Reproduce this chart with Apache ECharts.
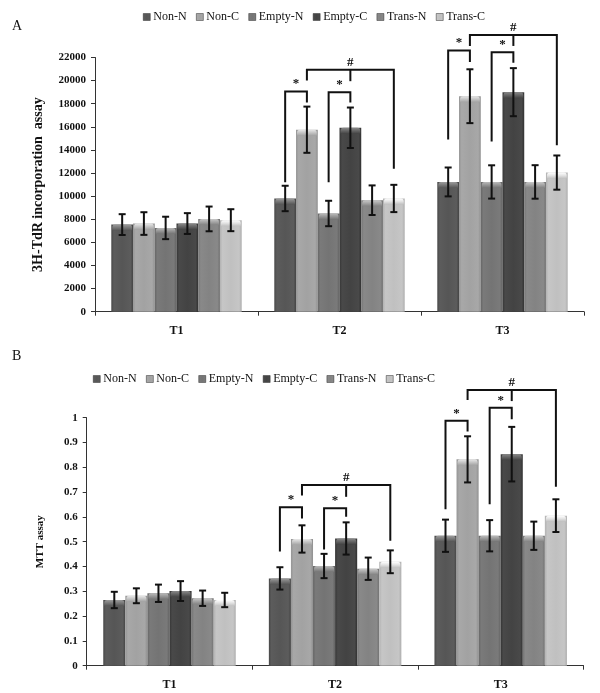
<!DOCTYPE html>
<html><head><meta charset="utf-8">
<script src="https://cdn.jsdelivr.net/npm/echarts/dist/echarts.min.js"></script>
<style>html,body{margin:0;padding:0;background:#fff}#c{width:600px;height:693px}</style>
</head><body><div id="c"></div><script>
// ---------- data ----------
const categories = ['T1', 'T2', 'T3'];
const seriesNames = ['Non-N', 'Non-C', 'Empty-N', 'Empty-C', 'Trans-N', 'Trans-C'];
const yTicksA = [0, 22000, 2000];   // min, max, interval
const yTicksB = [0, 1, 0.1];

// Panel A: 3H-TdR incorporation assay (means and error)
const tdrNonN   = [7540, 9800, 11230];
const tdrNonC   = [7630, 15750, 18650];
const tdrEmptyN = [7250, 8500, 11230];
const tdrEmptyC = [7630, 15920, 19000];
const tdrTransN = [8030, 9650, 11230];
const tdrTransC = [7920, 9800, 12040];
const tdrErrNonN   = [900, 1100, 1250];
const tdrErrNonC   = [980, 2000, 2330];
const tdrErrEmptyN = [970, 1100, 1440];
const tdrErrEmptyC = [900, 1750, 2080];
const tdrErrTransN = [1070, 1280, 1450];
const tdrErrTransC = [950, 1180, 1480];

// Panel B: MTT assay
const mttNonN   = [0.265, 0.352, 0.524];
const mttNonC   = [0.282, 0.511, 0.832];
const mttEmptyN = [0.292, 0.402, 0.524];
const mttEmptyC = [0.301, 0.513, 0.853];
const mttTransN = [0.272, 0.391, 0.524];
const mttTransC = [0.265, 0.419, 0.605];
const mttErrNonN   = [0.033, 0.045, 0.065];
const mttErrNonC   = [0.030, 0.055, 0.093];
const mttErrEmptyN = [0.035, 0.049, 0.063];
const mttErrEmptyC = [0.040, 0.065, 0.110];
const mttErrTransN = [0.031, 0.045, 0.057];
const mttErrTransC = [0.029, 0.046, 0.066];

// significance brackets: [category, leftBar, rightBar, topValue, leftEnd, rightEnd, midBar, midEnd, mark]
const tdrBrackets = [
  [1, 0, 1, 19050, 11200, 18100, -1, 0, '*'],
  [1, 2, 3, 19000, 11200, 18100, -1, 0, '*'],
  [1, 1, 5, 20930, 20000, 12380, 3, 19950, '#'],
  [2, 0, 1, 22600, 14900, 21600, -1, 0, '*'],
  [2, 2, 3, 22450, 14740, 21540, -1, 0, '*'],
  [2, 1, 5, 23950, 23000, 14400, 3, 23000, '#']
];
const mttBrackets = [
  [1, 0, 1, 0.639, 0.460, 0.594, -1, 0, '*'],
  [1, 2, 3, 0.635, 0.469, 0.601, -1, 0, '*'],
  [1, 1, 5, 0.729, 0.686, 0.504, 3, 0.681, '#'],
  [2, 0, 1, 0.988, 0.631, 0.944, -1, 0, '*'],
  [2, 2, 3, 1.040, 0.651, 0.994, -1, 0, '*'],
  [2, 1, 5, 1.112, 1.071, 0.722, 3, 1.067, '#']
];

// ---------- styling ----------
const SERIF = '"Liberation Serif", "DejaVu Serif", serif';
const baseColors = ['#565656', '#a2a2a2', '#747474', '#434343', '#838383', '#c0c0c0'];
function shade(hex, amt) {
  const n = parseInt(hex.slice(1), 16);
  let r = (n >> 16) & 255, g = (n >> 8) & 255, b = n & 255;
  const f = v => Math.max(0, Math.min(255, Math.round(v + amt)));
  return 'rgb(' + f(r) + ',' + f(g) + ',' + f(b) + ')';
}
function barGrad(c) {
  return new echarts.graphic.LinearGradient(0, 0, 1, 0, [
    {offset: 0, color: shade(c, -14)},
    {offset: 0.12, color: shade(c, 6)},
    {offset: 0.5, color: shade(c, 0)},
    {offset: 0.88, color: shade(c, 6)},
    {offset: 1, color: shade(c, -18)}
  ]);
}
const N = seriesNames.length;
const CAT_GAP = 0.2;

function barX(api, cat, idx) {
  const c = api.coord([cat, 0]);
  const bw = api.size([1, 0])[0];
  const w = bw * (1 - CAT_GAP) / N;
  return {x: c[0] - bw * (1 - CAT_GAP) / 2 + (idx + 0.5) * w, w: w};
}

function errRender(sIdx) {
  return function (params, api) {
    const cat = api.value(0), mean = api.value(1), err = api.value(2);
    const bx = barX(api, cat, sIdx);
    const yTop = api.coord([cat, mean])[1];
    const y1 = api.coord([cat, mean + err])[1];
    const y2 = api.coord([cat, mean - err])[1];
    const cap = 3.5;
    const st = {stroke: '#111', lineWidth: 2};
    const col = baseColors[sIdx];
    return {
      type: 'group',
      children: [
        {type: 'rect', shape: {x: bx.x - bx.w / 2 + 1, y: yTop, width: bx.w - 2, height: 6, r: [3, 3, 0, 0]},
          style: {fill: new echarts.graphic.LinearGradient(0, 0, 0, 1, [
            {offset: 0, color: shade(col, 70)}, {offset: 0.5, color: shade(col, 35)}, {offset: 1, color: shade(col, 0)}])}},
        {type: 'line', shape: {x1: bx.x, y1: y1, x2: bx.x, y2: y2}, style: st},
        {type: 'line', shape: {x1: bx.x - cap, y1: y1, x2: bx.x + cap, y2: y1}, style: st},
        {type: 'line', shape: {x1: bx.x - cap, y1: y2, x2: bx.x + cap, y2: y2}, style: st}
      ]
    };
  };
}

function bracketRender(list) {
  return function (params, api) {
    const b = list[params.dataIndex];
    const cat = b[0];
    const L = barX(api, cat, b[1]).x, R = barX(api, cat, b[2]).x;
    const yT = api.coord([cat, b[3]])[1];
    const yL = api.coord([cat, b[4]])[1];
    const yR = api.coord([cat, b[5]])[1];
    const st = {stroke: '#111', lineWidth: 2, fill: null};
    const children = [
      {type: 'polyline', shape: {points: [[L, yL], [L, yT], [R, yT], [R, yR]]}, style: st}
    ];
    let tx = (L + R) / 2;
    if (b[6] >= 0) {
      const M = barX(api, cat, b[6]).x;
      const yM = api.coord([cat, b[7]])[1];
      children.push({type: 'line', shape: {x1: M, y1: yT, x2: M, y2: yM}, style: st});
      tx = M;
    }
    children.push({type: 'text', x: tx, y: yT - 1,
      style: {text: b[8], fill: '#111', font: 'bold 13px ' + SERIF, align: 'center', verticalAlign: 'bottom'}});
    return {type: 'group', children: children};
  };
}

const tdrMeans = [tdrNonN, tdrNonC, tdrEmptyN, tdrEmptyC, tdrTransN, tdrTransC];
const tdrErrs = [tdrErrNonN, tdrErrNonC, tdrErrEmptyN, tdrErrEmptyC, tdrErrTransN, tdrErrTransC];
const mttMeans = [mttNonN, mttNonC, mttEmptyN, mttEmptyC, mttTransN, mttTransC];
const mttErrs = [mttErrNonN, mttErrNonC, mttErrEmptyN, mttErrEmptyC, mttErrTransN, mttErrTransC];

function buildSeries(means, errs, brackets, axisIdx) {
  const out = [];
  means.forEach((m, i) => {
    out.push({
      type: 'bar', name: seriesNames[i], xAxisIndex: axisIdx, yAxisIndex: axisIdx,
      data: m, barGap: '0%', barCategoryGap: (CAT_GAP * 100) + '%',
      itemStyle: {color: barGrad(baseColors[i])}, emphasis: {disabled: true}
    });
  });
  means.forEach((m, i) => {
    out.push({
      type: 'custom', name: seriesNames[i], xAxisIndex: axisIdx, yAxisIndex: axisIdx,
      data: m.map((v, k) => [k, v, errs[i][k]]), renderItem: errRender(i), z: 5, clip: false
    });
  });
  out.push({
    type: 'custom', name: 'brackets', xAxisIndex: axisIdx, yAxisIndex: axisIdx,
    data: brackets.map(b => [b[0], b[3]]), renderItem: bracketRender(brackets), z: 6, clip: false,
    silent: true
  });
  return out;
}

const axisLine = {show: true, lineStyle: {color: '#333', width: 1}};
const axisTick = {show: true, length: 4, lineStyle: {color: '#333'}};

function legendCfg(left, top) {
  return {
    data: seriesNames, left: left, top: top, icon: 'rect', itemWidth: 7, itemHeight: 7, itemGap: 9.5,
    itemStyle: {borderColor: '#333', borderWidth: 0.5},
    textStyle: {fontFamily: SERIF, fontSize: 12, color: '#111', padding: [0, 0, 0, -2]}
  };
}

const option = {
  animation: false,
  backgroundColor: '#fff',
  title: [
    {text: 'A', left: 7, top: 14, textStyle: {fontFamily: SERIF, fontSize: 14, fontWeight: 'normal', color: '#111'}},
    {text: 'B', left: 7, top: 344, textStyle: {fontFamily: SERIF, fontSize: 14, fontWeight: 'normal', color: '#111'}}
  ],
  legend: [legendCfg(138, 6), legendCfg(88, 368)],
  grid: [
    {left: 95, right: 16, top: 57.5, bottom: 381.3},
    {left: 86.7, right: 16.5, top: 417.7, bottom: 27.3}
  ],
  xAxis: [0, 1].map(i => ({
    type: 'category', gridIndex: i, data: categories,
    axisLine: axisLine, axisTick: axisTick,
    axisLabel: {fontFamily: SERIF, fontWeight: 'bold', fontSize: 12, color: '#111', margin: 13}
  })),
  yAxis: [
    {type: 'value', gridIndex: 0, min: yTicksA[0], max: yTicksA[1], interval: yTicksA[2],
      name: '3H-TdR incorporation  assay', nameLocation: 'middle', nameGap: 50,
      nameTextStyle: {fontFamily: SERIF, fontWeight: 'bold', fontSize: 14, color: '#111'},
      axisLine: axisLine, axisTick: axisTick, splitLine: {show: false},
      axisLabel: {fontFamily: SERIF, fontWeight: 'bold', fontSize: 11, color: '#111', margin: 9,
        formatter: v => String(Math.round(v))}},
    {type: 'value', gridIndex: 1, min: yTicksB[0], max: yTicksB[1], interval: yTicksB[2],
      name: 'MTT assay', nameLocation: 'middle', nameGap: 41,
      nameTextStyle: {fontFamily: SERIF, fontWeight: 'bold', fontSize: 11, color: '#111'},
      axisLine: axisLine, axisTick: axisTick, splitLine: {show: false},
      axisLabel: {fontFamily: SERIF, fontWeight: 'bold', fontSize: 11, color: '#111', margin: 9,
        formatter: v => String(Math.round(v * 10) / 10)}}
  ],
  series: buildSeries(tdrMeans, tdrErrs, tdrBrackets, 0).concat(buildSeries(mttMeans, mttErrs, mttBrackets, 1))
};

const chart = echarts.init(document.getElementById('c'), null, {renderer: 'canvas'});
chart.setOption(option);
</script></body></html>
